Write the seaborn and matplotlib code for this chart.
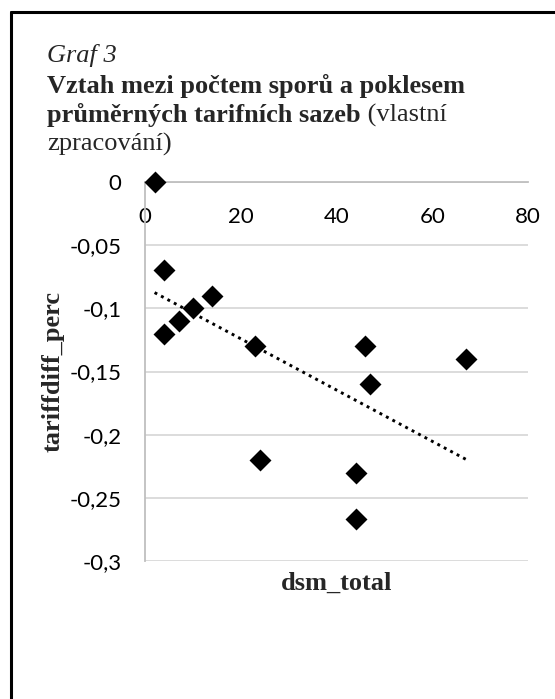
import numpy as np
import pandas as pd
import matplotlib
matplotlib.use("Agg")
import matplotlib.pyplot as plt
from matplotlib.lines import Line2D
from matplotlib.ticker import FuncFormatter
import seaborn as sns

# values
dsm_total = [2, 4, 4, 7, 10, 14, 23, 24, 44, 44, 46, 47, 67]
tariffdiff_perc = [0, -0.07, -0.12, -0.11, -0.10, -0.09, -0.13, -0.22,
                   -0.23, -0.267, -0.13, -0.16, -0.14]
x_ticks = [0, 20, 40, 60, 80]
y_ticks = [0, -0.05, -0.1, -0.15, -0.2, -0.25, -0.3]

df = pd.DataFrame({"dsm_total": dsm_total, "tariffdiff_perc": tariffdiff_perc})

sns.set_style("white")
plt.rcParams["font.family"] = ["Lato", "DejaVu Sans"]

fig = plt.figure(figsize=(5.55, 6.99), dpi=100)
ax = fig.add_axes([0.2613, 0.1974, 0.690, 0.5422])

# scatter + linear trend line (dotted), like the Excel trendline
sns.regplot(data=df, x="dsm_total", y="tariffdiff_perc", ax=ax, ci=None,
            marker="D", color="black",
            scatter_kws={"s": 125, "linewidths": 0, "alpha": 1, "zorder": 4,
                         "clip_on": False},
            line_kws={"color": "black", "linewidth": 2.1,
                      "linestyle": (0, (1, 1.5)), "zorder": 3})

ax.set_xlim(0, 80)
ax.set_ylim(-0.3, 0)
ax.set_xticks(x_ticks)
ax.set_yticks(y_ticks)

def comma(v, pos):
    s = f"{v:g}".replace(".", ",")
    return "0" if s in ("-0", "0") else s

ax.xaxis.set_major_formatter(FuncFormatter(comma))
ax.yaxis.set_major_formatter(FuncFormatter(comma))
ax.tick_params(axis="both", length=0, labelsize=16, colors="black")
ax.tick_params(axis="x", pad=18)
ax.tick_params(axis="y", pad=17)

ax.grid(axis="y", color="#d9d9d9", linewidth=1.3)
ax.set_axisbelow(True)
ax.spines["top"].set_visible(False)
ax.spines["right"].set_visible(False)
ax.spines["bottom"].set_position(("data", 0))
ax.spines["bottom"].set_color("#bfbfbf")
ax.spines["bottom"].set_linewidth(1.3)
ax.spines["left"].set_color("#bfbfbf")
ax.spines["left"].set_linewidth(1.3)

serif = ["Liberation Serif", "DejaVu Serif"]
ax.set_xlabel("dsm_total", family=serif, fontweight="bold", fontsize=19)
ax.xaxis.label.set_va("center")
ax.xaxis.set_label_coords(0.5, -0.058)
ax.set_ylabel("tariffdiff_perc", family=serif, fontweight="bold", fontsize=19)
ax.yaxis.label.set_va("center")
ax.yaxis.set_label_coords(-0.24, 0.5)

# title block
tx = 0.085
fs = 19
fig.text(tx, 1 - 62 / 699, "Graf 3", family=serif, style="italic", fontsize=fs, va="baseline")
fig.text(tx, 1 - 93 / 699, "Vztah mezi počtem sporů a poklesem", family=serif,
         fontweight="bold", fontsize=fs, va="baseline")
bold3 = fig.text(tx, 1 - 122 / 699, "průměrných tarifních sazeb", family=serif,
                 fontweight="bold", fontsize=fs, va="baseline")
fig.text(tx, 1 - 151 / 699, "zpracování)", family=serif, fontsize=fs, va="baseline")

fig.canvas.draw()
bb = bold3.get_window_extent().transformed(fig.transFigure.inverted())
fig.text(bb.x1, 1 - 122 / 699, " (vlastní", family=serif, fontsize=fs, va="baseline")

# frame around the figure
fig.add_artist(Line2D([10.5 / 555, 10.5 / 555], [0, 1 - 12 / 699], color="black",
                      linewidth=2.2, transform=fig.transFigure))
fig.add_artist(Line2D([10.5 / 555, 1], [1 - 12 / 699, 1 - 12 / 699], color="black",
                      linewidth=2.2, transform=fig.transFigure))

fig.savefig("out.png", dpi=100)
